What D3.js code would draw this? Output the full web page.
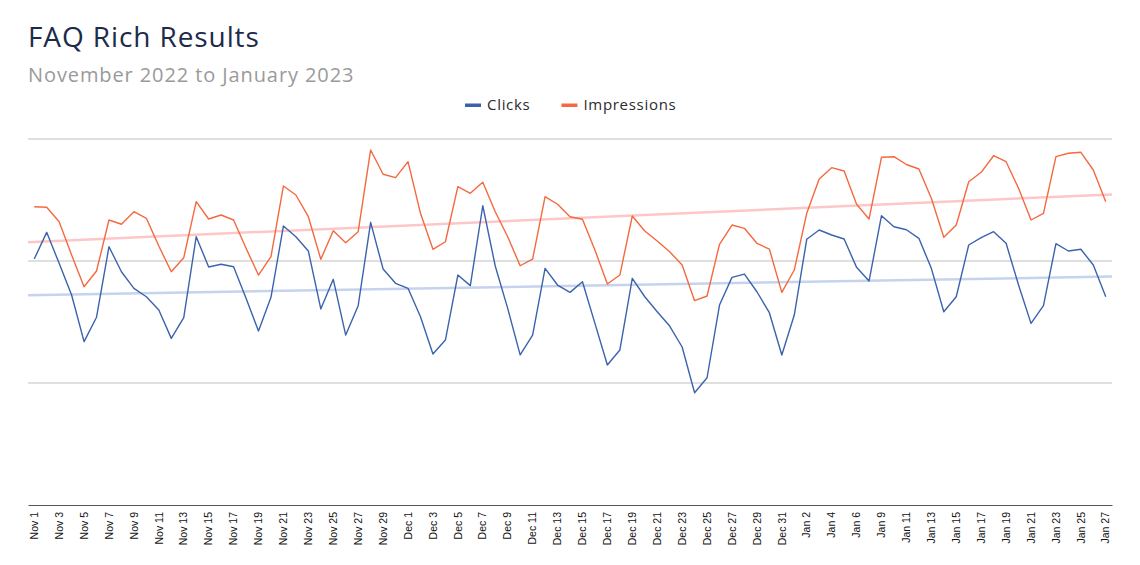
<!DOCTYPE html>
<html>
<head>
<meta charset="utf-8">
<script src="https://cdn.jsdelivr.net/npm/d3@7.9.0/dist/d3.min.js"></script>
<style>
  body { margin: 0; background: #fff; }
  svg { display: block; font-family: "Open Sans", sans-serif; }
</style>
</head>
<body>
<svg width="1140" height="565"></svg>
<script>
const days = [
  "Nov 1","Nov 2","Nov 3","Nov 4","Nov 5","Nov 6","Nov 7","Nov 8","Nov 9","Nov 10",
  "Nov 11","Nov 12","Nov 13","Nov 14","Nov 15","Nov 16","Nov 17","Nov 18","Nov 19","Nov 20",
  "Nov 21","Nov 22","Nov 23","Nov 24","Nov 25","Nov 26","Nov 27","Nov 28","Nov 29","Nov 30",
  "Dec 1","Dec 2","Dec 3","Dec 4","Dec 5","Dec 6","Dec 7","Dec 8","Dec 9","Dec 10",
  "Dec 11","Dec 12","Dec 13","Dec 14","Dec 15","Dec 16","Dec 17","Dec 18","Dec 19","Dec 20",
  "Dec 21","Dec 22","Dec 23","Dec 24","Dec 25","Dec 26","Dec 27","Dec 28","Dec 29","Dec 30",
  "Dec 31","Jan 1","Jan 2","Jan 3","Jan 4","Jan 5","Jan 6","Jan 7","Jan 9","Jan 10",
  "Jan 11","Jan 12","Jan 13","Jan 14","Jan 15","Jan 16","Jan 17","Jan 18","Jan 19","Jan 20",
  "Jan 21","Jan 22","Jan 23","Jan 24","Jan 25","Jan 26","Jan 27"
];

const clicks = [
  201.6, 223.5, 198.1, 172.1, 133.9, 153.9, 211.7, 191.2, 177.6, 170.7,
  159.8, 136.6, 153.5, 219.9, 195.1, 197.3, 195.3, 169.4, 142.6, 170.2,
  228.7, 219.9, 208.2, 160.7, 185.0, 139.3, 163.4, 231.7, 193.4, 181.7,
  177.6, 154.3, 123.8, 135.2, 188.5, 179.8, 245.3, 195.9, 161.2, 123.0,
  139.3, 194.0, 180.3, 174.3, 183.0, 148.9, 114.8, 127.0, 185.8, 170.7,
  158.4, 146.7, 129.5, 92.0, 104.3, 163.9, 186.6, 189.3, 174.8, 157.6,
  123.0, 155.7, 217.8, 225.4, 221.3, 218.0, 194.8, 183.6, 237.1, 228.1,
  225.6, 218.6, 194.0, 158.4, 170.7, 213.1, 219.1, 224.0, 214.5, 180.3,
  148.9, 163.4, 214.2, 208.2, 209.6, 196.7, 170.7
];

const impressions = [
  244.5, 244.0, 232.2, 204.9, 178.9, 191.8, 233.6, 230.1, 240.4, 235.0,
  212.3, 191.2, 202.7, 248.6, 234.4, 237.7, 233.6, 210.4, 188.5, 203.5,
  261.5, 254.1, 236.3, 201.4, 224.8, 215.0, 224.0, 291.0, 271.1, 268.3,
  281.4, 239.1, 209.6, 215.8, 260.9, 255.5, 264.5, 240.4, 219.9, 196.1,
  201.6, 252.7, 246.5, 236.3, 234.2, 209.0, 181.1, 188.5, 236.9, 224.6,
  216.4, 207.6, 196.7, 167.5, 171.3, 213.7, 229.5, 226.8, 214.5, 209.8,
  174.3, 192.6, 239.1, 267.2, 276.5, 273.8, 246.5, 234.4, 285.0, 285.5,
  279.1, 275.4, 251.4, 219.4, 229.5, 265.0, 272.7, 286.3, 281.4, 259.6,
  233.6, 239.1, 285.5, 288.3, 289.1, 274.6, 248.6
];

const gridValues = [0, 100, 200, 300];

const series = [
  { name: "Clicks", values: clicks, color: "#3b63ad", trend: "rgba(90,130,205,0.35)" },
  { name: "Impressions", values: impressions, color: "#f4693f", trend: "rgba(250,115,115,0.4)" }
];

const svg = d3.select("svg");
const plotLeft = 28, plotRight = 1112, plotTop = 139, plotBottom = 505;

const x = d3.scaleBand().domain(days).range([plotLeft, plotRight]);
const y = d3.scaleLinear().domain([0, 300]).range([plotBottom, plotTop]);
const cx = d => x(d) + x.bandwidth() / 2;

// title + subtitle
svg.append("text").attr("x", 28).attr("y", 47)
  .attr("font-size", 28).attr("letter-spacing", 0.9)
  .attr("fill", "#1c2b4a").text("FAQ Rich Results");
svg.append("text").attr("x", 28).attr("y", 82)
  .attr("font-size", 20).attr("letter-spacing", 0.9)
  .attr("fill", "#9a9a9a").text("November 2022 to January 2023");

// gridlines
svg.append("g").selectAll("line").data(gridValues.slice(1)).join("line")
  .attr("x1", plotLeft).attr("x2", plotRight)
  .attr("y1", d => y(d)).attr("y2", d => y(d))
  .attr("stroke", "#d4d4d4").attr("stroke-width", 1.5);

// x axis
const xAxis = d3.axisBottom(x)
  .tickValues(days.filter((d, i) => i % 2 === 0))
  .tickSize(0).tickPadding(0);
const gx = svg.append("g").attr("transform", `translate(0,${plotBottom})`).call(xAxis);
gx.select(".domain").attr("stroke", "#555").attr("stroke-width", 1.2);
gx.selectAll(".tick text")
  .attr("transform", "rotate(-90)")
  .attr("text-anchor", "end")
  .attr("x", -7).attr("y", 0).attr("dy", "0.35em")
  .attr("font-family", "'Liberation Sans', Arial, sans-serif")
  .attr("font-size", 10.5).attr("fill", "#111");

// trend lines (least squares over day index)
series.forEach(s => {
  const n = s.values.length;
  const mx = d3.mean(s.values, (v, i) => i);
  const my = d3.mean(s.values);
  const slope = d3.sum(s.values, (v, i) => (i - mx) * (v - my)) / d3.sum(s.values, (v, i) => (i - mx) ** 2);
  const at = i => my + slope * (i - mx);
  svg.append("line")
    .attr("x1", plotLeft).attr("x2", plotRight)
    .attr("y1", y(at(-0.5))).attr("y2", y(at(n - 0.5)))
    .attr("stroke", s.trend).attr("stroke-width", 2.5);
});

// data lines
const line = d3.line().x((v, i) => cx(days[i])).y(v => y(v));
series.forEach(s => {
  svg.append("path").datum(s.values)
    .attr("d", line).attr("fill", "none")
    .attr("stroke", s.color).attr("stroke-width", 1.4)
    .attr("stroke-linejoin", "round");
});

// legend
const legend = svg.append("g").attr("transform", "translate(0,105)");
let lx = 465;
series.forEach(s => {
  legend.append("rect").attr("x", lx).attr("y", -1.5).attr("width", 16).attr("height", 3.5).attr("fill", s.color);
  const t = legend.append("text").attr("x", lx + 22).attr("y", 0).attr("dy", "0.35em")
    .attr("font-size", 15).attr("letter-spacing", 0.7)
    .attr("fill", "#2b2b2b").text(s.name);
  lx += 22 + t.node().getComputedTextLength() + 31;
});
</script>
</body>
</html>
